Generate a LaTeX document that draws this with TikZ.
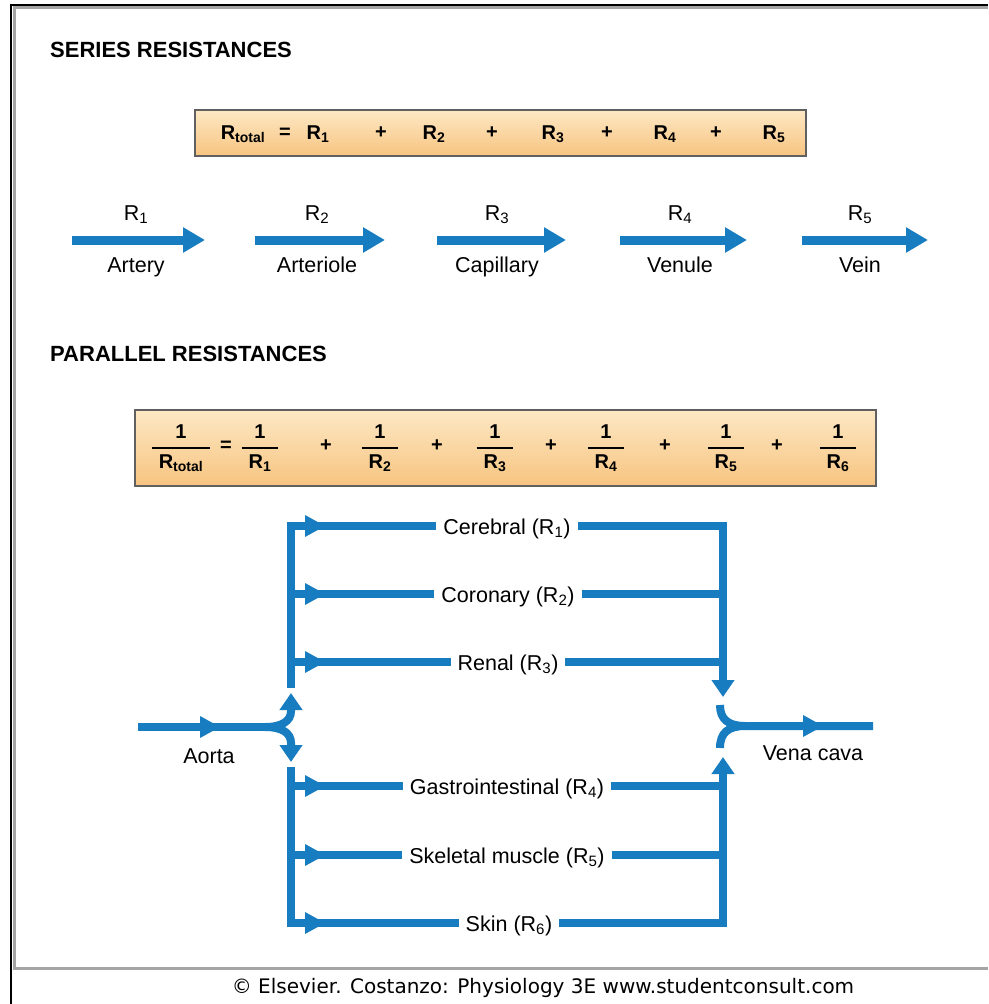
\documentclass[tikz,border=0pt]{standalone}
\usepackage{fontspec}
\setmainfont{Liberation Sans}
\newfontfamily\footfont{DejaVu Sans}
\usetikzlibrary{arrows.meta}
\definecolor{vesselc}{RGB}{24,124,192}
\definecolor{boxtop}{RGB}{253,232,196}
\definecolor{boxbot}{RGB}{247,196,128}
\definecolor{framegray}{RGB}{165,165,165}
\newcommand{\fr}[1]{{\setlength{\arrayrulewidth}{1.6pt}\renewcommand{\arraystretch}{1.15}\begin{tabular}{@{\hspace{7pt}}c@{\hspace{7pt}}}1\\\hline R\textsubscript{#1}\end{tabular}}}
\newcommand{\tri}[2]{\fill[vesselc] (#1,#2-11) -- (#1+20,#2) -- (#1,#2+11) -- cycle;}
\tikzset{
  lbl/.style={font=\fontsize{21.5}{25}\selectfont, inner sep=0pt, text height=16pt, text depth=5pt},
  eqn/.style={font=\bfseries\fontsize{20}{24}\selectfont, inner sep=0pt},
  heading/.style={font=\bfseries\fontsize{22}{26}\selectfont, anchor=west, inner sep=0pt},
  vessel/.style={draw=vesselc, line width=8pt},
  sarrow/.style={draw=vesselc, line width=9pt, -{Triangle[length=22pt,width=24pt]}},
  vtip/.style={-{Triangle[length=17pt,width=22pt]}},
  eqbox/.style={draw=gray!75!black, line width=1.5pt, top color=boxtop, bottom color=boxbot, inner sep=0pt},
  branchlbl/.style={lbl, fill=white, inner xsep=7pt, inner ysep=3pt},
}
\begin{document}
\begin{tikzpicture}[x=1pt,y=-1pt]
\useasboundingbox (0,0) rectangle (988,1004);
% frames
\draw[black, line width=2pt] (11,1004) -- (11,4.5) -- (988,4.5);
\draw[framegray, line width=2.5pt] (988,968.5) -- (14.5,968.5) -- (14.5,7.5) -- (988,7.5);

% headings
\node[heading] (hser) at (50,50) {SERIES RESISTANCES};
\node[heading] (hpar) at (50,354) {PARALLEL RESISTANCES};

% series equation
\node[eqbox, minimum width=611pt, minimum height=46pt] (sbox) at (500.5,133) {};
\node[eqn] (srt) at (243,134) {R\textsubscript{total}};
\node[eqn] (seq) at (285,133) {=};
\node[eqn] (s1) at (318,134) {R\textsubscript{1}};
\node[eqn] (sp1) at (381,133) {+};
\node[eqn] (s2) at (434,134) {R\textsubscript{2}};
\node[eqn] (sp2) at (492,133) {+};
\node[eqn] (s3) at (553,134) {R\textsubscript{3}};
\node[eqn] (sp3) at (607,133) {+};
\node[eqn] (s4) at (665,134) {R\textsubscript{4}};
\node[eqn] (sp4) at (716,133) {+};
\node[eqn] (s5) at (774,134) {R\textsubscript{5}};

% series arrows
\coordinate (a1s) at (72,240);  \coordinate (a1e) at (205,240);
\coordinate (a2s) at (255,240); \coordinate (a2e) at (385,240);
\coordinate (a3s) at (437,240); \coordinate (a3e) at (566,240);
\coordinate (a4s) at (620,240); \coordinate (a4e) at (747,240);
\coordinate (a5s) at (802,240); \coordinate (a5e) at (928,240);
\draw[sarrow] (a1s) -- (a1e);
\draw[sarrow] (a2s) -- (a2e);
\draw[sarrow] (a3s) -- (a3e);
\draw[sarrow] (a4s) -- (a4e);
\draw[sarrow] (a5s) -- (a5e);
\node[lbl] (r1) at (136,215) {R\textsubscript{1}};
\node[lbl] (r2) at (317,215) {R\textsubscript{2}};
\node[lbl] (r3) at (497,215) {R\textsubscript{3}};
\node[lbl] (r4) at (680,215) {R\textsubscript{4}};
\node[lbl] (r5) at (860,215) {R\textsubscript{5}};
\node[lbl] (n1) at (136,267) {Artery};
\node[lbl] (n2) at (317,267) {Arteriole};
\node[lbl] (n3) at (497,267) {Capillary};
\node[lbl] (n4) at (680,267) {Venule};
\node[lbl] (n5) at (860,267) {Vein};

% parallel equation
\node[eqbox, minimum width=741pt, minimum height=76pt] (pbox) at (505.5,448) {};
\node[eqn] (pft) at (181,448) {\fr{total}};
\node[eqn] (peq) at (226,446) {=};
\node[eqn] (pf1) at (260,448) {\fr{1}};
\node[eqn] (pp1) at (326,446) {+};
\node[eqn] (pf2) at (380,448) {\fr{2}};
\node[eqn] (pp2) at (437,446) {+};
\node[eqn] (pf3) at (495,448) {\fr{3}};
\node[eqn] (pp3) at (551,446) {+};
\node[eqn] (pf4) at (606,448) {\fr{4}};
\node[eqn] (pp4) at (665,446) {+};
\node[eqn] (pf5) at (726,448) {\fr{5}};
\node[eqn] (pp5) at (777,446) {+};
\node[eqn] (pf6) at (838,448) {\fr{6}};

% parallel network
\coordinate (aortain) at (138,727);
\coordinate (aj) at (265,727);
\coordinate (uptip) at (291,693);
\coordinate (dntip) at (291,762);
\coordinate (ulb) at (291,688);
\coordinate (utl) at (291,526);
\coordinate (utr) at (723,526);
\coordinate (utip) at (723,697);
\coordinate (llt) at (291,767);
\coordinate (lbl) at (291,923);
\coordinate (lbr) at (723,923);
\coordinate (ltip) at (723,757);
\coordinate (vj) at (745,726);
\coordinate (vout) at (873,726);

\draw[vessel] (aortain) -- (aj);
\draw[vessel, vtip] (aj) .. controls (282,727) and (291,721) .. (291,711) -- (uptip);
\draw[vessel, vtip] (aj) .. controls (282,727) and (291,733) .. (291,743) -- (dntip);
\draw[vessel, vtip, line join=miter] (ulb) -- (utl) -- (utr) -- (utip);
\draw[vessel, vtip, line join=miter] (llt) -- (lbl) -- (lbr) -- (ltip);
\draw[vessel] (291,594) -- (723,594);
\draw[vessel] (291,662) -- (723,662);
\draw[vessel] (291,786) -- (723,786);
\draw[vessel] (291,855) -- (723,855);
\draw[vessel] (720,705) .. controls (720,719) and (728,726) .. (vj) -- (vout);
\draw[vessel] (720,748) .. controls (720,733) and (728,726) .. (vj);

\tri{200}{727}
\tri{803}{726}
\tri{305}{526}
\tri{305}{594}
\tri{305}{662}
\tri{305}{786}
\tri{305}{855}
\tri{305}{923}

\node[branchlbl] (b1) at (507,529) {Cerebral (R\textsubscript{1})};
\node[branchlbl] (b2) at (508,597) {Coronary (R\textsubscript{2})};
\node[branchlbl] (b3) at (508,665) {Renal (R\textsubscript{3})};
\node[branchlbl] (b4) at (507,789) {Gastrointestinal (R\textsubscript{4})};
\node[branchlbl] (b5) at (507,858) {Skeletal muscle (R\textsubscript{5})};
\node[branchlbl] (b6) at (509,926) {Skin (R\textsubscript{6})};
\node[lbl] (aorta) at (209,758) {Aorta};
\node[lbl] (vena) at (813,755) {Vena cava};

% footer
\node[font=\footfont\fontsize{20}{24}\selectfont, inner sep=0pt] (foot) at (543,988) {© Elsevier. Costanzo: Physiology 3E www.studentconsult.com};
\end{tikzpicture}
\end{document}
